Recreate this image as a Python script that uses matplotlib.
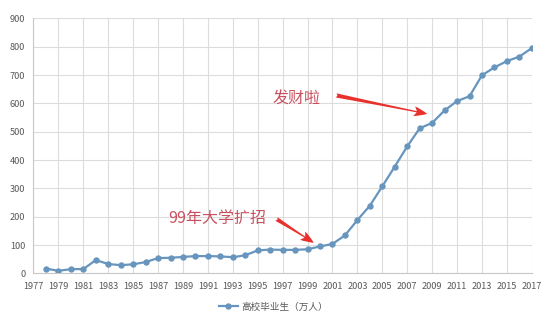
import matplotlib

matplotlib.use("Agg")
import matplotlib.pyplot as plt
from matplotlib.lines import Line2D

plt.rcParams["font.family"] = ["Noto Sans CJK SC", "DejaVu Sans"]

years = list(range(1978, 2018))
graduates = [
    17, 9, 15, 15, 47, 33, 29, 32, 40, 54,
    55, 58, 61, 61, 60, 57, 64, 81, 84, 83,
    83, 85, 95, 104, 134, 188, 239, 307, 377, 448,
    512, 531, 575, 608, 625, 699, 727, 749, 765, 795,
]
x_ticks = list(range(1977, 2018, 2))
y_ticks = list(range(0, 901, 100))
series_name = "高校毕业生（万人）"

line_color = "#6795bd"
note_color = "#c9505e"
arrow_color = "#e8302c"

fig = plt.figure(figsize=(5.47, 3.22), dpi=100)
ax = fig.add_axes([0.0612, 0.151, 0.911, 0.792])

ax.plot(years, graduates, color=line_color, linewidth=1.6,
        marker="o", markersize=4.6, markeredgewidth=0)

ax.set_xlim(1977, 2017)
ax.set_ylim(0, 900)
ax.set_xticks(x_ticks)
ax.set_yticks(y_ticks)
ax.grid(True, color="#dcdcdc", linewidth=0.8)
ax.set_axisbelow(True)
ax.tick_params(length=0, labelsize=6.6, colors="#595959", pad=6)
for side in ("top", "right"):
    ax.spines[side].set_visible(False)
for side in ("left", "bottom"):
    ax.spines[side].set_color("#c8c8c8")
    ax.spines[side].set_linewidth(0.8)

# callouts: tapered red arrows pointing at the curve
arrow_style = dict(arrowstyle="fancy,head_length=0.95,head_width=0.7,tail_width=0.3",
                   color=arrow_color, lw=0, shrinkA=0, shrinkB=0)

ax.text(1996.2, 618, "发财啦", color=note_color, fontsize=11.5,
        va="center", ha="left")
ax.annotate("", xy=(2008.6, 563), xytext=(2001.3, 628), arrowprops=arrow_style)

ax.text(1987.8, 194, "99年大学扩招", color=note_color, fontsize=11.5,
        va="center", ha="left")
ax.annotate("", xy=(1999.5, 108), xytext=(1996.5, 192), arrowprops=arrow_style)

handle = Line2D([], [], color=line_color, linewidth=1.6,
                marker="o", markersize=4.6, markeredgewidth=0)
fig.legend([handle], [series_name], loc="center", bbox_to_anchor=(0.5, 0.047),
           frameon=False, fontsize=6.9, labelcolor="#595959",
           handlelength=2.0, handletextpad=0.4)

fig.savefig("out.png", dpi=100, facecolor="white")
